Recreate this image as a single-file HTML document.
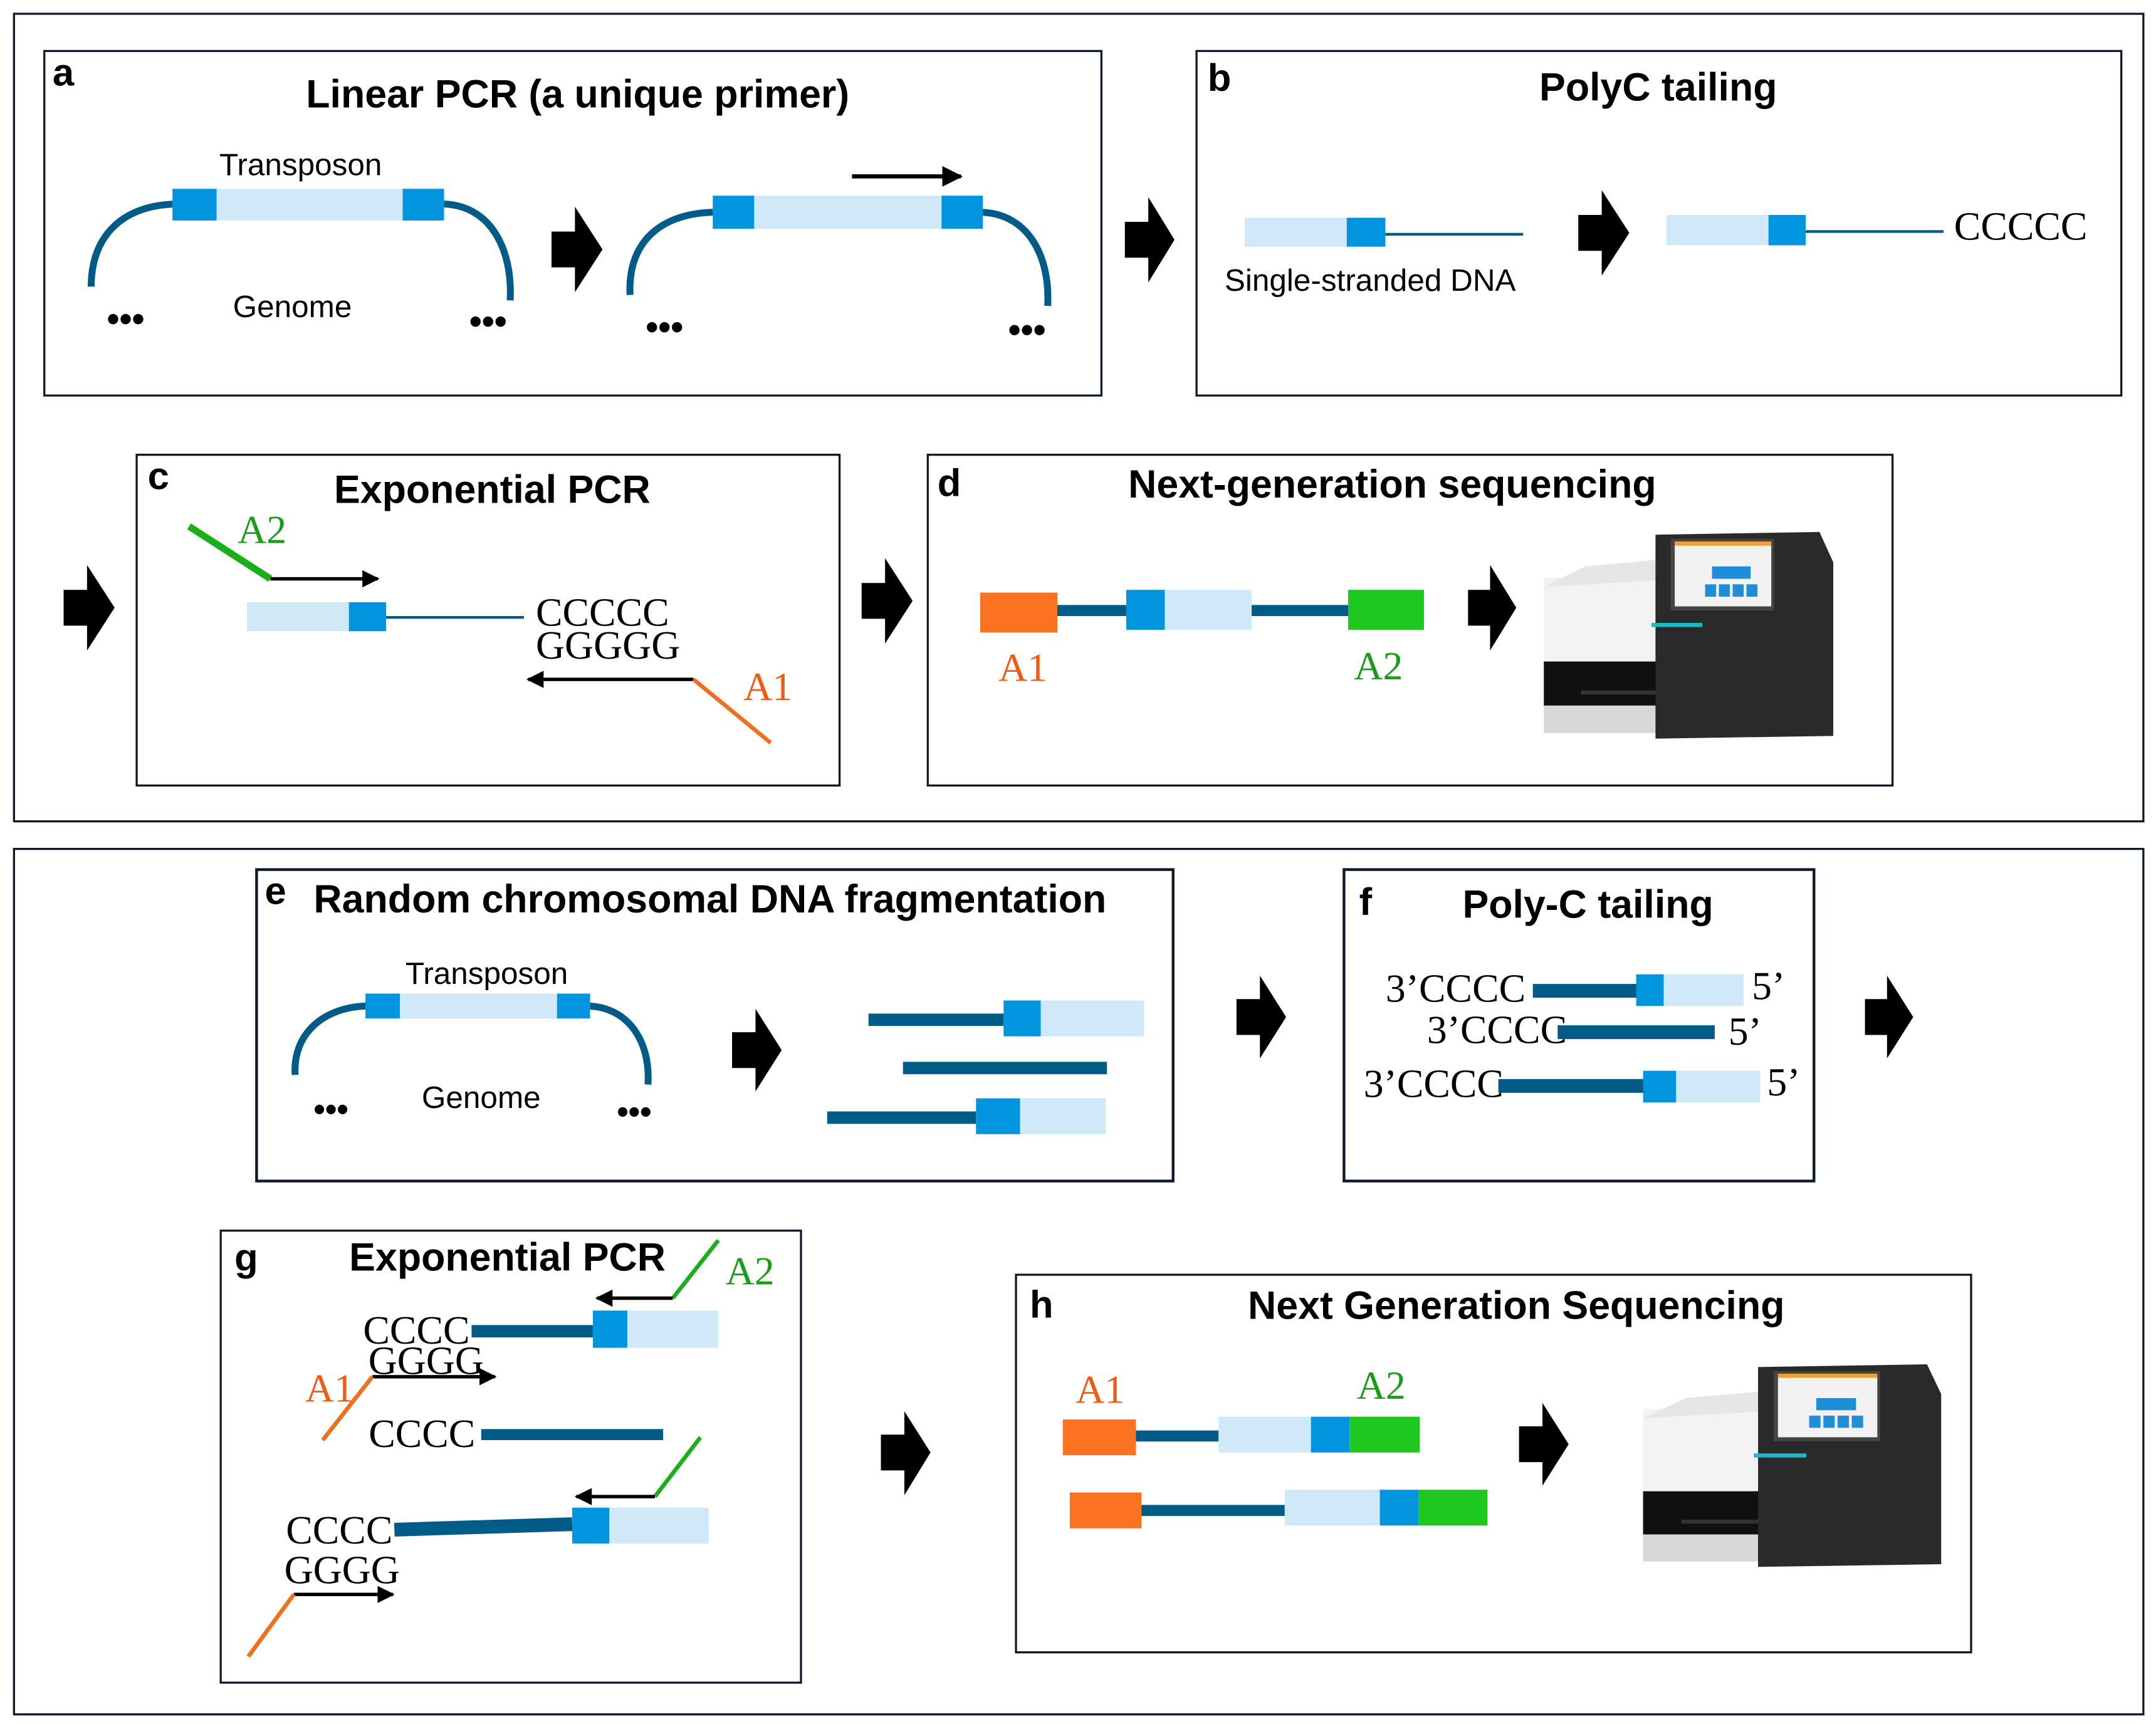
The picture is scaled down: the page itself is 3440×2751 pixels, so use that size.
<!DOCTYPE html>
<html><head><meta charset="utf-8"><style>html,body{margin:0;padding:0;background:#fff}svg{display:block}</style></head>
<body>
<svg width="3440" height="2751" viewBox="0 0 1564 1251" xmlns="http://www.w3.org/2000/svg">
<defs>
<marker id="ah" viewBox="0 0 10 10" refX="9" refY="5" markerWidth="5" markerHeight="5" orient="auto-start-reverse"><path d="M0,0 L10,5 L0,10 z" fill="#000"/></marker>
<g id="mach">
<rect x="0" y="33" width="84" height="62" fill="#f3f3f3"/>
<path d="M0,40 L30,25 L84,20 L84,35 L0,40z" fill="#e6e6e6"/>
<rect x="0" y="94" width="82" height="32" fill="#101010"/>
<rect x="27" y="115" width="55" height="3" fill="#333"/>
<rect x="0" y="126" width="82" height="20" fill="#d8d8d8"/>
<path d="M81,2 L200,0 L210,22 L210,148 L81,150 z" fill="#2a2a2a"/>
<rect x="92" y="5" width="75" height="52" fill="#444"/>
<rect x="95" y="7" width="70" height="47" fill="#f2f2f2"/>
<rect x="95" y="7" width="70" height="3" fill="#f0a030"/>
<rect x="122" y="25" width="28" height="9" fill="#1f8ed8"/>
<rect x="117" y="38" width="8" height="9" fill="#1f8ed8"/><rect x="127" y="38" width="8" height="9" fill="#1f8ed8"/><rect x="137" y="38" width="8" height="9" fill="#1f8ed8"/><rect x="147" y="38" width="8" height="9" fill="#1f8ed8"/>
<rect x="78" y="66" width="37" height="3" fill="#1fb8c8"/>
</g>
</defs>
<style>
text{font-family:"Liberation Sans",sans-serif}
.t{font-weight:bold;font-size:28.5px;text-anchor:middle}
.l{font-weight:bold;font-size:28px}
.s{font-size:22.5px;text-anchor:middle}
.sf{font-family:"Liberation Serif",serif;font-size:29px}
.dk{stroke:#005c87;fill:none}
</style>
<g fill="none" stroke="#0b1a2a" stroke-width="1.5">
<rect x="10" y="10" width="1545" height="586"/>
<rect x="10" y="616" width="1545" height="628"/>
<rect x="32" y="37" width="767" height="250"/>
<rect x="868" y="37" width="671" height="250"/>
<rect x="99" y="330" width="510" height="240"/>
<rect x="673" y="330" width="700" height="240"/>
<rect x="186" y="631" width="665" height="226" stroke-width="2"/>
<rect x="975" y="631" width="341" height="226" stroke-width="2"/>
<rect x="160" y="893" width="421" height="328"/>
<rect x="737" y="925" width="693" height="274"/>
</g>
<g fill="#000">
<path d="M400,168 L417,168 L417,150 L437,181 L417,212 L417,194 L400,194z"/>
<path d="M816,161 L833,161 L833,143 L852,174 L833,205 L833,187 L816,187z"/>
<path d="M1145,156 L1162,156 L1162,138 L1182,169 L1162,200 L1162,182 L1145,182z"/>
<path d="M46,428 L63,428 L63,410 L83,441 L63,472 L63,454 L46,454z"/>
<path d="M625,423 L642,423 L642,405 L662,436 L642,467 L642,449 L625,449z"/>
<path d="M1065,428 L1081,428 L1081,410 L1100,441 L1081,472 L1081,454 L1065,454z"/>
<path d="M531,749 L548,749 L548,732 L567,762 L548,792 L548,775 L531,775z"/>
<path d="M897,725 L914,725 L914,708 L933,738 L914,768 L914,751 L897,751z"/>
<path d="M1353,725 L1369,725 L1369,708 L1388,738 L1369,768 L1369,751 L1353,751z"/>
<path d="M639,1041 L656,1041 L656,1024 L675,1054 L656,1085 L656,1067 L639,1067z"/>
<path d="M1102,1035 L1119,1035 L1119,1018 L1138,1048 L1119,1078 L1119,1061 L1102,1061z"/>
</g>
<!-- panel a -->
<text x="38" y="62" class="l">a</text>
<text x="419" y="78" class="t">Linear PCR (a unique primer)</text>
<path d="M66,208 C66,170 90,148 130,148 L320,148 C355,148 372,180 370,218" class="dk" stroke-width="5"/>
<rect x="125" y="137" width="197" height="23" fill="#d0e9f8"/>
<rect x="125" y="137" width="32" height="23" fill="#0095de"/><rect x="292" y="137" width="30" height="23" fill="#0095de"/>
<text x="218" y="127" class="s">Transposon</text>
<text x="212" y="230" class="s">Genome</text>
<text x="91" y="240" font-size="26" font-weight="bold" text-anchor="middle">•••</text>
<text x="354" y="242" font-size="26" font-weight="bold" text-anchor="middle">•••</text>
<path d="M457,214 C455,175 480,154 520,154 L710,154 C745,154 762,185 760,222" class="dk" stroke-width="5"/>
<rect x="517" y="142" width="196" height="24" fill="#d0e9f8"/>
<rect x="517" y="142" width="30" height="24" fill="#0095de"/><rect x="683" y="142" width="30" height="24" fill="#0095de"/>
<line x1="618" y1="128" x2="697" y2="128" stroke="#000" stroke-width="3" marker-end="url(#ah)"/>
<text x="482" y="246" font-size="26" font-weight="bold" text-anchor="middle">•••</text>
<text x="745" y="248" font-size="26" font-weight="bold" text-anchor="middle">•••</text>
<!-- panel b -->
<text x="876" y="66" class="l">b</text>
<text x="1203" y="73" class="t">PolyC tailing</text>
<rect x="903" y="158" width="102" height="21" fill="#d0e9f8"/><rect x="977" y="158" width="28" height="21" fill="#0095de"/>
<line x1="1005" y1="170" x2="1105" y2="170" stroke="#005c87" stroke-width="2"/>
<text x="994" y="211" class="s">Single-stranded DNA</text>
<rect x="1209" y="156" width="101" height="22" fill="#d0e9f8"/><rect x="1283" y="156" width="27" height="22" fill="#0095de"/>
<line x1="1310" y1="168" x2="1410" y2="168" stroke="#005c87" stroke-width="2"/>
<text x="1466" y="174" class="sf" text-anchor="middle" font-size="31">CCCCC</text>
<!-- panel c -->
<text x="107" y="355" class="l">c</text>
<text x="357" y="365" class="t">Exponential PCR</text>
<line x1="137" y1="382" x2="196" y2="420" stroke="#1aae1a" stroke-width="5"/>
<text x="190" y="394" class="sf" fill="#1a9c1a" text-anchor="middle" font-size="26">A2</text>
<line x1="196" y1="420" x2="274" y2="420" stroke="#000" stroke-width="2.5" marker-end="url(#ah)"/>
<rect x="179" y="437" width="101" height="21" fill="#d0e9f8"/><rect x="253" y="437" width="27" height="21" fill="#0095de"/>
<line x1="280" y1="448" x2="380" y2="448" stroke="#005c87" stroke-width="2"/>
<text x="437" y="454" class="sf" text-anchor="middle">CCCCC</text>
<text x="441" y="478" class="sf" text-anchor="middle">GGGGG</text>
<line x1="503" y1="493" x2="383" y2="493" stroke="#000" stroke-width="2.5" marker-end="url(#ah)"/>
<line x1="503" y1="493" x2="559" y2="539" stroke="#f07020" stroke-width="3"/>
<text x="557" y="508" class="sf" fill="#f05a12" text-anchor="middle" font-size="26">A1</text>
<!-- panel d -->
<text x="680" y="360" class="l">d</text>
<text x="1010" y="361" class="t">Next-generation sequencing</text>
<rect x="711" y="430" width="56" height="29" fill="#fb7320"/>
<line x1="767" y1="443" x2="817" y2="443" stroke="#005c87" stroke-width="8"/>
<rect x="817" y="428" width="28" height="29" fill="#0095de"/><rect x="845" y="428" width="63" height="29" fill="#d0e9f8"/>
<line x1="908" y1="443" x2="978" y2="443" stroke="#005c87" stroke-width="8"/>
<rect x="978" y="428" width="55" height="29" fill="#1ec81e"/>
<text x="742" y="494" class="sf" fill="#f05a12" text-anchor="middle">A1</text>
<text x="1000" y="493" class="sf" fill="#1a9c1a" text-anchor="middle">A2</text>
<use href="#mach" transform="translate(1120,386)"/>
<!-- panel e -->
<text x="192" y="656" class="l">e</text>
<text x="515" y="662" class="t">Random chromosomal DNA fragmentation</text>
<path d="M214,780 C212,750 235,730 268,730 L425,730 C455,730 472,755 470,787" class="dk" stroke-width="5"/>
<rect x="265" y="721" width="163" height="18" fill="#d0e9f8"/>
<rect x="265" y="721" width="25" height="18" fill="#0095de"/><rect x="404" y="721" width="24" height="18" fill="#0095de"/>
<text x="353" y="714" class="s">Transposon</text>
<text x="349" y="804" class="s">Genome</text>
<text x="240" y="813" font-size="24" font-weight="bold" text-anchor="middle">•••</text>
<text x="460" y="815" font-size="24" font-weight="bold" text-anchor="middle">•••</text>
<line x1="630" y1="740" x2="728" y2="740" stroke="#005c87" stroke-width="9"/>
<rect x="728" y="726" width="27" height="26" fill="#0095de"/><rect x="755" y="726" width="75" height="26" fill="#d0e9f8"/>
<line x1="655" y1="775" x2="803" y2="775" stroke="#005c87" stroke-width="9"/>
<line x1="600" y1="811" x2="708" y2="811" stroke="#005c87" stroke-width="9"/>
<rect x="708" y="797" width="32" height="26" fill="#0095de"/><rect x="740" y="797" width="62" height="26" fill="#d0e9f8"/>
<!-- panel f -->
<text x="986" y="664" class="l">f</text>
<text x="1152" y="666" class="t">Poly-C tailing</text>
<text x="1056" y="727" class="sf" text-anchor="middle" font-size="24">3’CCCC</text>
<rect x="1112" y="714" width="76" height="10" fill="#005c87"/>
<rect x="1187" y="707" width="20" height="23" fill="#0095de"/><rect x="1207" y="707" width="58" height="23" fill="#d0e9f8"/>
<text x="1283" y="725" class="sf" text-anchor="middle" font-size="24">5’</text>
<text x="1086" y="757" class="sf" text-anchor="middle" font-size="24">3’CCCC</text>
<rect x="1130" y="744" width="114" height="10" fill="#005c87"/>
<text x="1266" y="758" class="sf" text-anchor="middle" font-size="24">5’</text>
<text x="1040" y="796" class="sf" text-anchor="middle" font-size="24">3’CCCC</text>
<rect x="1087" y="783" width="106" height="10" fill="#005c87"/>
<rect x="1192" y="777" width="24" height="23" fill="#0095de"/><rect x="1216" y="777" width="61" height="23" fill="#d0e9f8"/>
<text x="1294" y="795" class="sf" text-anchor="middle" font-size="24">5’</text>
<!-- panel g -->
<text x="170" y="922" class="l">g</text>
<text x="368" y="922" class="t">Exponential PCR</text>
<line x1="488" y1="942" x2="521" y2="900" stroke="#1aae1a" stroke-width="3"/>
<text x="544" y="932" class="sf" fill="#1a9c1a" text-anchor="middle" font-size="26">A2</text>
<line x1="488" y1="942" x2="433" y2="942" stroke="#000" stroke-width="2.5" marker-end="url(#ah)"/>
<text x="302" y="975" class="sf" text-anchor="middle" font-size="26">CCCC</text>
<line x1="342" y1="966" x2="430" y2="966" stroke="#005c87" stroke-width="9"/>
<rect x="430" y="951" width="25" height="27" fill="#0095de"/><rect x="455" y="951" width="66" height="27" fill="#d0e9f8"/>
<text x="309" y="997" class="sf" text-anchor="middle" font-size="26">GGGG</text>
<line x1="270" y1="999" x2="359" y2="999" stroke="#000" stroke-width="2.5" marker-end="url(#ah)"/>
<line x1="270" y1="999" x2="234" y2="1045" stroke="#f07020" stroke-width="3"/>
<text x="239" y="1017" class="sf" fill="#f05a12" text-anchor="middle" font-size="26">A1</text>
<text x="306" y="1050" class="sf" text-anchor="middle" font-size="26">CCCC</text>
<line x1="349" y1="1041" x2="481" y2="1041" stroke="#005c87" stroke-width="8"/>
<line x1="508" y1="1043" x2="475" y2="1086" stroke="#1aae1a" stroke-width="3"/>
<line x1="475" y1="1086" x2="418" y2="1086" stroke="#000" stroke-width="2.5" marker-end="url(#ah)"/>
<text x="246" y="1120" class="sf" text-anchor="middle" font-size="26">CCCC</text>
<line x1="286" y1="1110" x2="415" y2="1106" stroke="#005c87" stroke-width="10"/>
<rect x="415" y="1094" width="27" height="26" fill="#0095de"/><rect x="442" y="1094" width="72" height="26" fill="#d0e9f8"/>
<text x="248" y="1149" class="sf" text-anchor="middle" font-size="26">GGGG</text>
<line x1="213" y1="1157" x2="285" y2="1157" stroke="#000" stroke-width="2.5" marker-end="url(#ah)"/>
<line x1="213" y1="1157" x2="180" y2="1202" stroke="#f07020" stroke-width="3"/>
<!-- panel h -->
<text x="747" y="956" class="l">h</text>
<text x="1100" y="957" class="t">Next Generation Sequencing</text>
<text x="798" y="1018" class="sf" fill="#f05a12" text-anchor="middle">A1</text>
<text x="1002" y="1015" class="sf" fill="#1a9c1a" text-anchor="middle">A2</text>
<rect x="771" y="1030" width="53" height="26" fill="#fb7320"/>
<line x1="824" y1="1042" x2="884" y2="1042" stroke="#005c87" stroke-width="8"/>
<rect x="884" y="1028" width="67" height="26" fill="#d0e9f8"/><rect x="951" y="1028" width="28" height="26" fill="#0095de"/><rect x="979" y="1028" width="51" height="26" fill="#1ec81e"/>
<rect x="776" y="1083" width="52" height="26" fill="#fb7320"/>
<line x1="828" y1="1096" x2="932" y2="1096" stroke="#005c87" stroke-width="8"/>
<rect x="932" y="1081" width="69" height="26" fill="#d0e9f8"/><rect x="1001" y="1081" width="28" height="26" fill="#0095de"/><rect x="1029" y="1081" width="50" height="26" fill="#1ec81e"/>
<use href="#mach" transform="translate(1192,990) scale(1.03,0.98)"/>
</svg>
</body></html>
